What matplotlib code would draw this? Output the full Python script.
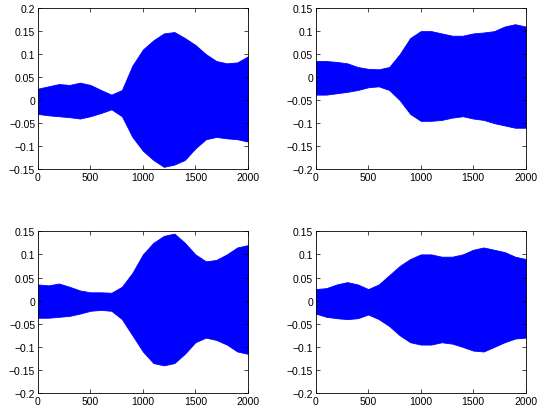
import matplotlib
matplotlib.use("Agg")
import matplotlib.pyplot as plt
import numpy as np

plt.rcParams["font.family"] = ["Liberation Sans", "DejaVu Sans"]
plt.rcParams["font.size"] = 7.5

# sample positions of the envelope readings
n = [0, 100, 200, 300, 400, 500, 600, 700, 800, 900, 1000,
     1100, 1200, 1300, 1400, 1500, 1600, 1700, 1800, 1900, 2000]

# upper / lower envelope of each signal
up1 = [0.025, 0.030, 0.035, 0.033, 0.038, 0.033, 0.022, 0.012, 0.022, 0.075, 0.110,
       0.130, 0.145, 0.148, 0.135, 0.120, 0.100, 0.085, 0.080, 0.082, 0.095]
lo1 = [-0.030, -0.033, -0.035, -0.037, -0.040, -0.035, -0.028, -0.020, -0.035, -0.080, -0.110,
       -0.130, -0.145, -0.140, -0.130, -0.105, -0.085, -0.080, -0.083, -0.085, -0.090]

up2 = [0.035, 0.035, 0.033, 0.030, 0.022, 0.018, 0.017, 0.022, 0.050, 0.085, 0.100,
       0.100, 0.095, 0.090, 0.090, 0.095, 0.097, 0.100, 0.110, 0.115, 0.110]
lo2 = [-0.038, -0.038, -0.035, -0.032, -0.028, -0.022, -0.020, -0.028, -0.050, -0.080, -0.095,
       -0.095, -0.093, -0.088, -0.085, -0.090, -0.093, -0.100, -0.105, -0.110, -0.110]

up3 = [0.035, 0.033, 0.037, 0.030, 0.022, 0.018, 0.018, 0.017, 0.030, 0.060, 0.100,
       0.125, 0.140, 0.145, 0.125, 0.100, 0.085, 0.088, 0.100, 0.115, 0.120]
lo3 = [-0.037, -0.037, -0.035, -0.033, -0.028, -0.022, -0.020, -0.022, -0.040, -0.075, -0.110,
       -0.135, -0.140, -0.135, -0.115, -0.090, -0.080, -0.085, -0.095, -0.110, -0.115]

up4 = [0.025, 0.027, 0.035, 0.040, 0.035, 0.025, 0.035, 0.055, 0.075, 0.090, 0.100,
       0.100, 0.095, 0.095, 0.100, 0.110, 0.115, 0.110, 0.105, 0.095, 0.090]
lo4 = [-0.028, -0.035, -0.038, -0.040, -0.038, -0.030, -0.040, -0.055, -0.075, -0.090, -0.095,
       -0.095, -0.090, -0.093, -0.100, -0.108, -0.110, -0.100, -0.090, -0.082, -0.080]

ylims = [(-0.15, 0.2), (-0.2, 0.15), (-0.2, 0.15), (-0.2, 0.15)]
xticks = [0, 500, 1000, 1500, 2000]


def fmt(v, p):
    v = round(v, 2) + 0.0
    if v == 0:
        return "0"
    return f"{v:g}".replace("-", "\u2212")


fig = plt.figure(figsize=(5.38, 4.14), dpi=100)
boxes = [[0.0706, 0.589, 0.390, 0.389], [0.587, 0.589, 0.390, 0.389],
         [0.0706, 0.048, 0.390, 0.391], [0.587, 0.048, 0.390, 0.391]]
data = [(up1, lo1), (up2, lo2), (up3, lo3), (up4, lo4)]

for box, (up, lo), yl in zip(boxes, data, ylims):
    ax = fig.add_axes(box)
    ax.fill_between(n, lo, up, color="#0000ff", linewidth=0.6, edgecolor="#0000ff")
    ax.set_xlim(0, 2000)
    ax.set_ylim(*yl)
    ax.set_xticks(xticks)
    ax.set_yticks(np.arange(yl[0], yl[1] + 0.001, 0.05))
    ax.yaxis.set_major_formatter(plt.FuncFormatter(fmt))
    ax.tick_params(direction="in", top=True, right=True, length=3, width=0.5, pad=2)
    for s in ax.spines.values():
        s.set_linewidth(0.6)

fig.savefig("out.png", dpi=100)
